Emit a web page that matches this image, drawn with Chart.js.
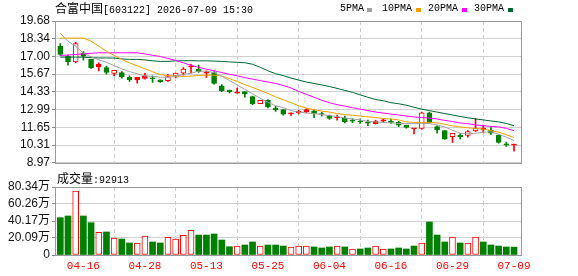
<!DOCTYPE html>
<html>
<head>
<meta charset="utf-8">
<script src="https://cdn.jsdelivr.net/npm/chart.js@4.4.1/dist/chart.umd.min.js"></script>
<style>
body { margin: 0; background: #fff; width: 578px; height: 276px; overflow: hidden; position: relative; }
canvas { position: absolute; left: 0; }
.txt { position: absolute; white-space: nowrap; color: #000; font-family: "Liberation Mono", monospace; font-size: 10px; line-height: 14px; }
.cjk { font-family: "Noto Sans CJK SC", sans-serif; font-size: 12px; }
.sw { position: absolute; top: 8px; width: 5px; height: 4px; }
</style>
</head>
<body>
<canvas id="kline" width="578" height="172" style="top:0"></canvas>
<canvas id="vol" width="578" height="106" style="top:170px"></canvas>

<div class="txt" style="left:55px;top:1px"><span class="cjk">合富中国</span>[603122] 2026-07-09 15:30</div>
<div class="txt" style="left:340px;top:2px">5PMA</div><div class="sw" style="left:367px;background:#a0a0a0"></div>
<div class="txt" style="left:382px;top:2px">10PMA</div><div class="sw" style="left:416px;background:#f0a000"></div>
<div class="txt" style="left:428px;top:2px">20PMA</div><div class="sw" style="left:462px;background:#ff00ff"></div>
<div class="txt" style="left:474px;top:2px">30PMA</div><div class="sw" style="left:508px;background:#006633"></div>
<div class="txt" style="left:57px;top:171px"><span class="cjk">成交量</span>:92913</div>

<script>
// 日期 (交易日)
const dates = ['04-13','04-14','04-15','04-16','04-17','04-20','04-21','04-22','04-23','04-24',
  '04-27','04-28','04-29','04-30','05-06','05-07','05-08','05-11','05-12','05-13',
  '05-14','05-15','05-18','05-19','05-20','05-21','05-22','05-25','05-26','05-27',
  '05-28','05-29','06-01','06-02','06-03','06-04','06-05','06-08','06-09','06-10',
  '06-11','06-12','06-15','06-16','06-17','06-18','06-22','06-23','06-24','06-25',
  '06-26','06-29','06-30','07-01','07-02','07-03','07-06','07-07','07-08','07-09'];

const openP = [17.77,17.03,16.58,17.28,16.78,16.21,16.16,15.72,15.79,15.42,
  15.24,15.34,15.37,15.24,15.17,15.54,15.74,16.21,16.04,15.74,
  15.79,14.79,14.47,14.23,14.35,13.97,13.43,13.68,13.11,12.99,
  12.66,12.74,12.81,12.89,12.69,12.49,12.37,12.32,12.20,12.12,
  12.07,11.92,12.12,12.12,12.02,11.82,11.53,11.56,12.74,11.70,
  11.40,10.95,11.07,11.03,11.37,11.50,11.45,11.07,10.40,10.30];
const highP = [17.97,17.10,18.07,17.37,16.78,16.53,16.28,15.96,15.86,15.54,
  15.42,15.72,15.54,15.24,15.66,15.74,16.16,16.41,16.36,15.91,
  15.86,14.87,14.47,14.62,14.35,14.00,13.68,13.75,13.26,12.99,
  12.74,12.93,13.06,12.93,12.81,12.57,12.57,12.50,12.30,12.30,
  12.20,12.17,12.30,12.27,12.10,11.82,11.53,12.81,12.81,11.77,
  11.40,11.20,11.20,11.40,12.32,11.82,11.63,11.07,10.53,10.38];
const lowP = [17.08,16.35,16.53,16.73,16.10,15.91,15.66,15.54,15.37,15.12,
  14.99,15.29,15.04,15.04,15.12,15.40,15.59,15.74,15.79,15.42,
  14.90,14.35,14.25,14.23,13.93,13.36,13.43,13.11,12.86,12.57,
  12.54,12.67,12.74,12.37,12.50,12.25,12.19,11.99,12.00,11.95,
  11.77,11.90,12.00,11.95,11.70,11.58,11.15,11.50,11.97,11.20,
  10.75,10.51,10.77,10.90,11.33,11.27,11.12,10.45,10.21,9.84];
const closeP = [17.15,16.61,17.97,17.03,16.16,16.41,15.79,15.96,15.46,15.24,
  15.42,15.54,15.32,15.09,15.49,15.74,16.04,16.28,15.86,15.74,
  14.97,14.42,14.35,14.30,14.18,13.43,13.68,13.19,12.99,12.64,
  12.74,12.86,12.99,12.69,12.62,12.32,12.45,12.07,12.12,12.05,
  11.97,12.12,12.22,12.02,11.82,11.65,11.53,12.74,12.02,11.45,
  10.75,11.20,10.95,11.33,11.57,11.50,11.20,10.51,10.30,10.30];

const ma5 = [18.77,18.14,17.77,17.26,16.98,16.74,16.56,16.31,16.06,15.86,
  15.70,15.54,15.49,15.44,15.42,15.52,15.63,15.74,15.89,15.89,
  15.79,15.52,15.18,14.85,14.51,14.18,13.84,13.54,13.28,13.13,
  12.91,12.80,12.73,12.69,12.61,12.54,12.47,12.35,12.28,12.21,
  12.09,12.06,12.02,11.98,11.94,11.94,11.93,11.93,11.94,11.83,
  11.68,11.42,11.20,11.16,11.20,11.28,11.31,11.13,10.90,10.66];
const ma10 = [18.39,18.39,18.39,18.39,18.16,17.78,17.40,17.08,16.78,16.52,
  16.30,16.07,15.85,15.63,15.55,15.52,15.49,15.52,15.57,15.59,
  15.59,15.52,15.33,15.11,14.88,14.66,14.44,14.21,13.95,13.73,
  13.51,13.28,13.10,12.99,12.87,12.80,12.69,12.61,12.56,12.50,
  12.44,12.39,12.32,12.28,12.21,12.06,12.02,12.02,12.02,11.98,
  11.87,11.76,11.68,11.61,11.57,11.52,11.40,11.28,11.09,10.88];
const ma20 = [17.08,17.11,17.15,17.20,17.24,17.28,17.28,17.28,17.28,17.28,
  17.28,17.19,17.09,17.00,16.85,16.70,16.52,16.33,16.18,16.04,
  15.92,15.78,15.66,15.54,15.40,15.29,15.18,15.07,14.96,14.81,
  14.62,14.36,14.14,13.92,13.69,13.51,13.36,13.25,13.13,13.02,
  12.91,12.80,12.73,12.65,12.58,12.50,12.43,12.39,12.35,12.28,
  12.17,12.09,11.98,11.92,11.83,11.77,11.72,11.68,11.57,11.40];
const ma30 = [16.95,16.95,16.95,16.95,16.91,16.89,16.89,16.88,16.82,16.78,
  16.78,16.74,16.67,16.63,16.63,16.67,16.68,16.68,16.67,16.67,
  16.65,16.63,16.59,16.56,16.53,16.41,16.18,15.92,15.70,15.55,
  15.37,15.22,15.07,14.96,14.85,14.73,14.59,14.44,14.29,14.10,
  13.92,13.75,13.66,13.51,13.43,13.32,13.17,13.02,12.91,12.80,
  12.69,12.58,12.47,12.37,12.28,12.21,12.13,12.06,11.94,11.77];

// 成交量 (万股), 1 = 红柱
const volume = [44.1,46.1,75.6,46.1,38.2,26.8,27.2,20.1,18.9,14.2,
  14.2,22.4,15.4,14.2,20.9,18.9,23.3,29.2,23.6,23.6,
  24.8,17.7,9.8,10.6,11.8,15.4,10.6,11.8,11.8,10.6,
  9.5,10.6,10.6,9.5,8.3,9.5,10.6,9.5,7.1,7.1,
  8.3,10.6,7.1,7.1,8.3,7.1,10.6,14.2,39.0,23.6,
  15.4,21.3,14.2,14.2,21.3,15.4,11.8,10.6,9.5,9.29];
const volUp = [0,0,1,0,0,1,0,1,0,0, 1,1,0,0,1,1,1,1,0,0,
  0,0,0,1,0,0,1,0,0,0, 1,1,1,0,0,0,1,0,1,0,
  0,1,1,0,0,0,0,1,0,0, 0,1,0,1,1,0,0,0,0,0];

const priceTicks = [8.97, 10.31, 11.65, 12.99, 14.33, 15.67, 17.00, 18.34, 19.68];
const volTicks = [0, 20.09, 40.17, 60.26, 80.34];
const labelIdx = [3, 11, 19, 27, 35, 43, 51, 59];

const RED = '#ff0000', GREEN = '#008000';
const up = closeP.map((c, i) => c >= openP[i]);
const FONT = 'Liberation Sans';

// 外框
const framePlugin = {
    id: 'frame',
    afterDraw(chart) {
        const a = chart.chartArea, ctx = chart.ctx;
        ctx.save();
        ctx.strokeStyle = '#999';
        ctx.lineWidth = 1;
        ctx.strokeRect(Math.round(a.left) + 0.5, Math.round(a.top) + 0.5,
            Math.round(a.right - a.left) - 1, Math.round(a.bottom - a.top));
        ctx.restore();
    }
};

const xBase = {
    type: 'linear', min: -0.69, max: 60.04, offset: false,
    afterBuildTicks: s => { s.ticks = labelIdx.map(v => ({ value: v })); },
    grid: { color: '#cccccc', drawTicks: false },
    border: { display: false, dash: [4, 3] }
};

const lineDs = (data, color) => ({
    type: 'line', data: data.map((v, i) => ({ x: i, y: v })),
    borderColor: color, borderWidth: 1, pointRadius: 0, tension: 0, order: 0
});

new Chart(document.getElementById('kline'), {
    type: 'bar',
    data: {
        datasets: [
            lineDs(ma5, '#a0a0a0'),
            lineDs(ma10, '#f0a000'),
            lineDs(ma20, '#ff00ff'),
            lineDs(ma30, '#006633'),
            {   // 实体
                data: dates.map((d, i) => ({ x: i, y: [openP[i], closeP[i]] })),
                backgroundColor: up.map((u, i) => u ? (Math.abs(closeP[i] - openP[i]) < 0.2 ? RED : '#ffffff') : GREEN),
                borderColor: up.map(u => u ? RED : GREEN),
                borderWidth: 1, borderSkipped: false, barThickness: 5, minBarLength: 1,
                grouped: false, order: 1
            },
            {   // 影线
                data: dates.map((d, i) => ({ x: i, y: [lowP[i], highP[i]] })),
                backgroundColor: up.map(u => u ? RED : GREEN),
                barThickness: 1, grouped: false, order: 2
            }
        ]
    },
    options: {
        responsive: false, animation: false,
        layout: { padding: { top: 21, right: 56, bottom: 7, left: 0 } },
        plugins: { legend: { display: false }, tooltip: { enabled: false } },
        scales: {
            x: Object.assign({}, xBase, { ticks: { display: false } }),
            y: {
                min: 8.97, max: 19.68,
                afterBuildTicks: s => { s.ticks = priceTicks.map(v => ({ value: v })); },
                afterFit: s => { s.width = 55; },
                ticks: { color: '#111', padding: 2, autoSkip: false, font: { family: FONT, size: 12 }, callback: v => v.toFixed(2) },
                grid: { color: '#d0d0d0', tickLength: 3, tickColor: '#888' },
                border: { color: '#999' }
            }
        }
    },
    plugins: [framePlugin]
});

new Chart(document.getElementById('vol'), {
    type: 'bar',
    data: {
        datasets: [{
            data: volume.map((v, i) => ({ x: i, y: v })),
            backgroundColor: volUp.map(u => u ? '#ffffff' : GREEN),
            borderColor: volUp.map(u => u ? RED : GREEN),
            borderWidth: volUp.map(u => u ? 1 : 0),
            borderSkipped: false, barThickness: 6, grouped: false
        }]
    },
    options: {
        responsive: false, animation: false,
        layout: { padding: { top: 17, right: 56, bottom: 0, left: 0 } },
        plugins: { legend: { display: false }, tooltip: { enabled: false } },
        scales: {
            x: Object.assign({}, xBase, {
                afterFit: s => { s.height = 21; },
                ticks: { color: RED, padding: 4, maxRotation: 0, autoSkip: false,
                         font: { family: 'Liberation Mono', size: 11 }, callback: v => dates[v] }
            }),
            y: {
                min: 0, max: 80.34,
                afterBuildTicks: s => { s.ticks = volTicks.map(v => ({ value: v })); },
                afterFit: s => { s.width = 55; },
                ticks: { color: '#111', padding: 2, autoSkip: false, font: { family: FONT + ', Noto Sans CJK SC', size: 12 },
                         callback: v => v === 0 ? '0' : v.toFixed(2) + '万' },
                grid: { color: '#d0d0d0', tickLength: 3, tickColor: '#888' },
                border: { color: '#999' }
            }
        }
    },
    plugins: [framePlugin]
});
</script>
</body>
</html>
